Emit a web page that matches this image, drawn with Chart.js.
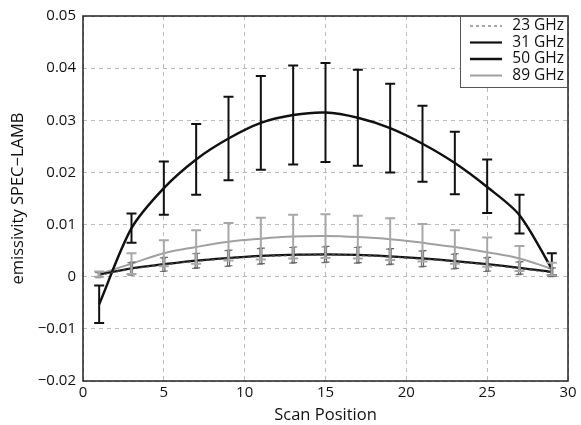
<!DOCTYPE html>
<html><head><meta charset="utf-8">
<script src="https://cdn.jsdelivr.net/npm/chart.js@4"></script>
<style>html,body{margin:0;padding:0;background:#fff}</style>
</head><body>
<canvas id="c" width="581" height="425"></canvas>
<script>
const scanPos = [1,3,5,7,9,11,13,15,17,19,21,23,25,27,29];
const e23 = [0.0003,0.0015,0.0023,0.0030,0.0035,0.0039,0.0041,0.0042,0.0041,0.0038,0.0034,0.0029,0.0023,0.0016,0.0008];
const e31 = [0.0004,0.0016,0.0024,0.0031,0.0036,0.0040,0.0042,0.0043,0.0042,0.0039,0.0035,0.0030,0.0024,0.0017,0.0009];
const e50 = [-0.0053,0.0093,0.0170,0.0225,0.0265,0.0295,0.0310,0.0315,0.0305,0.0285,0.0255,0.0218,0.0172,0.0118,0.0015];
const e89 = [0.0005,0.0025,0.0045,0.0057,0.0067,0.0073,0.0077,0.0078,0.0076,0.0072,0.0065,0.0057,0.0047,0.0035,0.0015];
const err23 = [0.0005,0.0012,0.0013,0.0014,0.0015,0.0015,0.0015,0.0015,0.0015,0.0015,0.0015,0.0014,0.0013,0.0012,0.0008];
const err50Up = [0.0036,0.0028,0.0051,0.0068,0.0080,0.0090,0.0095,0.0095,0.0092,0.0085,0.0073,0.0060,0.0053,0.0039,0.0030];
const err50Down = [0.0036,0.0028,0.0051,0.0068,0.0080,0.0090,0.0095,0.0095,0.0092,0.0085,0.0073,0.0060,0.0050,0.0035,0.0012];
const err89 = [0.0005,0.0020,0.0025,0.0032,0.0036,0.0040,0.0042,0.0042,0.0041,0.0040,0.0036,0.0032,0.0028,0.0024,0.0012];
const xTicks = [0,5,10,15,20,25,30];
const yTicks = [0.05,0.04,0.03,0.02,0.01,0,-0.01,-0.02];
const seriesNames = ['23 GHz','31 GHz','50 GHz','89 GHz'];

const FONT = '"Open Sans", "Liberation Sans", sans-serif';
const pts = arr => scanPos.map((x,i)=>({x:x,y:arr[i]}));

const errorBars = {
  id:'errorBars',
  afterDatasetsDraw(chart){
    const ctx = chart.ctx, xs = chart.scales.x, ys = chart.scales.y;
    chart.data.datasets.forEach(ds=>{
      if(!ds.errUp) return;
      ctx.save();
      ctx.strokeStyle = ds.errColor; ctx.lineWidth = ds.errWidth;
      scanPos.forEach((x,i)=>{
        const px = xs.getPixelForValue(x) + (ds.errOffset||0);
        const yl = ys.getPixelForValue(ds.vals[i]-ds.errDown[i]);
        const yh = ys.getPixelForValue(ds.vals[i]+ds.errUp[i]);
        const c = ds.capW;
        ctx.beginPath();
        ctx.moveTo(px,yl); ctx.lineTo(px,yh);
        ctx.moveTo(px-c,yl); ctx.lineTo(px+c,yl);
        ctx.moveTo(px-c,yh); ctx.lineTo(px+c,yh);
        ctx.stroke();
      });
      ctx.restore();
    });
  }
};

const frameLegend = {
  id:'frameLegend',
  afterDraw(chart){
    const ctx = chart.ctx, a = chart.chartArea;
    ctx.save();
    ctx.strokeStyle = '#222'; ctx.lineWidth = 1.5;
    ctx.strokeRect(a.left, a.top, a.right-a.left, a.bottom-a.top);
    const lx = a.right-108, ly = a.top, lw = 108, lh = 72;
    ctx.fillStyle = '#fff';
    ctx.fillRect(lx,ly,lw,lh);
    ctx.strokeStyle = '#555'; ctx.lineWidth = 1;
    ctx.strokeRect(lx+0.5,ly+0.5,lw-1,lh-1);
    ctx.font = '15.5px ' + FONT;
    ctx.textAlign = 'right'; ctx.textBaseline = 'middle';
    chart.data.datasets.forEach((ds,i)=>{
      const y = ly + 10 + i*16.5;
      ctx.save();
      ctx.strokeStyle = ds.legendColor || ds.borderColor; ctx.lineWidth = ds.borderWidth;
      ctx.setLineDash(ds.borderDash||[]);
      ctx.beginPath(); ctx.moveTo(lx+10,y); ctx.lineTo(lx+42,y); ctx.stroke();
      ctx.restore();
      ctx.fillStyle = '#111';
      ctx.fillText(ds.label, lx+lw-4, y);
    });
    ctx.restore();
  }
};

const fmt = v => { const r = Math.round(v*100)/100; if(r===0) return '0'; return (r<0?'\u2212':'') + Math.abs(r).toFixed(2); };

new Chart(document.getElementById('c'), {
  type:'line',
  data:{datasets:[
    {label:seriesNames[0], data:pts(e23), vals:e23, errUp:err23, errDown:err23, errColor:'#777', errWidth:1.2, capW:3, errOffset:-1,
     borderColor:'#444', legendColor:'#888', borderWidth:1.5, borderDash:[3,3], pointRadius:0, tension:0.4},
    {label:seriesNames[1], data:pts(e31), vals:e31, errUp:err23, errDown:err23, errColor:'#666', errWidth:1.2, capW:3, errOffset:1,
     borderColor:'#111', borderWidth:2.2, pointRadius:0, tension:0.4},
    {label:seriesNames[2], data:pts(e50), vals:e50, errUp:err50Up, errDown:err50Down, errColor:'#111', errWidth:2, capW:5,
     borderColor:'#111', borderWidth:2.5, pointRadius:0, tension:0.3},
    {label:seriesNames[3], data:pts(e89), vals:e89, errUp:err89, errDown:err89, errColor:'#a8a8a8', errWidth:2, capW:5,
     borderColor:'#a0a0a0', borderWidth:2, pointRadius:0, tension:0.4}
  ]},
  options:{
    responsive:false, animation:false, devicePixelRatio:1,
    layout:{padding:{top:15,right:13,left:0,bottom:0}},
    plugins:{legend:{display:false}, tooltip:{enabled:false}},
    scales:{
      x:{type:'linear', min:0, max:30,
        afterBuildTicks(s){ s.ticks = xTicks.map(v=>({value:v})); },
        afterFit(s){ s.height = 44; },
        ticks:{color:'#111', font:{size:15, family:FONT}, padding:3, maxRotation:0},
        grid:{color:'#bbb', drawTicks:false, lineWidth:1},
        border:{display:false, dash:[4,4]},
        title:{display:true, text:'Scan Position', color:'#111', font:{size:16.5, family:FONT}, padding:{top:0,bottom:0}}
      },
      y:{type:'linear', min:-0.02, max:0.05,
        afterBuildTicks(s){ s.ticks = yTicks.map(v=>({value:v})); },
        afterFit(s){ s.width = 83; },
        ticks:{color:'#111', font:{size:15, family:FONT}, padding:7, callback:v=>fmt(v)},
        grid:{color:'#bbb', drawTicks:false, lineWidth:1},
        border:{display:false, dash:[4,4]},
        title:{display:true, text:'emissivity SPEC\u2212LAMB', color:'#111', font:{size:16.5, family:FONT}, padding:{top:8,bottom:0}}
      }
    }
  },
  plugins:[errorBars, frameLegend]
});
</script>
</body></html>
